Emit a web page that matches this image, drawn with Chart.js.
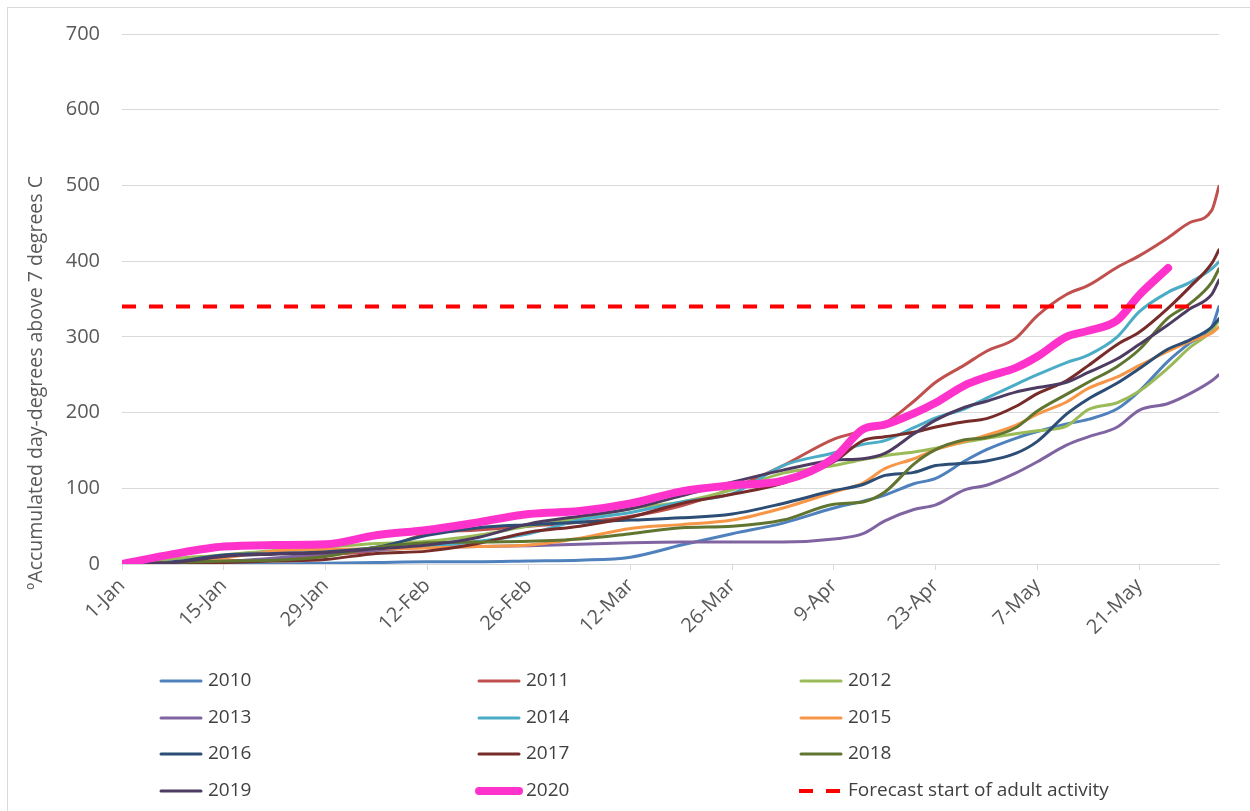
<!DOCTYPE html>
<html>
<head>
<meta charset="utf-8">
<title>Accumulated day-degrees above 7 degrees C</title>
<script src="https://cdn.jsdelivr.net/npm/chart.js@4.4.1/dist/chart.umd.min.js"></script>
<style>
  body { margin: 0; background: #ffffff; }
  #myChart { display: block; }
</style>
</head>
<body>
<canvas id="myChart" width="1250" height="811"></canvas>
<script>
/* DATA */

// day of the year for every reading (0 = 1-Jan)
var days = [0, 7, 14, 21, 28, 35, 42, 49, 56, 63, 70, 77, 84, 91, 98,
            102, 105, 109, 112, 116, 119, 123, 126, 130, 133, 137, 140, 144, 147, 150, 151];

var y2010 = [0, 0, 0, 0, 1, 2, 3, 3, 4, 5, 9, 25, 40, 54, 74,
             83, 91, 106, 113, 136, 151, 166, 175, 185, 191, 205, 228, 268, 292, 313, 340];
var y2011 = [0, 2, 4, 6, 12, 18, 40, 45, 50, 55, 63, 77, 100, 130, 165,
             176, 186, 215, 240, 263, 281, 298, 328, 356, 368, 392, 407, 431, 451, 467, 499];
var y2012 = [0, 7, 12, 18, 22, 27, 30, 38, 50, 60, 73, 82, 98, 120, 130,
             138, 143, 148, 153, 161, 166, 172, 176, 182, 204, 213, 228, 259, 286, 308, 322];
var y2013 = [0, 0, 3, 8, 14, 18, 22, 23, 24, 26, 28, 29, 29, 29, 33,
             40, 57, 72, 78, 98, 104, 120, 135, 157, 168, 181, 203, 212, 225, 242, 250];
var y2014 = [0, 2, 10, 16, 18, 20, 23, 30, 40, 58, 68, 82, 93, 130, 147,
             158, 163, 180, 193, 205, 219, 237, 250, 266, 276, 300, 333, 359, 372, 390, 399];
var y2015 = [0, 1, 8, 17, 19, 20, 21, 23, 25, 34, 47, 52, 58, 74, 95,
             107, 126, 139, 151, 162, 170, 183, 198, 214, 232, 247, 262, 281, 294, 305, 313];
var y2016 = [0, 3, 12, 14, 16, 22, 38, 48, 52, 55, 58, 61, 66, 80, 97,
             105, 117, 121, 130, 133, 136, 146, 162, 198, 218, 239, 258, 284, 296, 313, 324];
var y2017 = [0, 0, 2, 4, 6, 14, 17, 27, 42, 50, 62, 80, 92, 107, 135,
             163, 168, 174, 181, 188, 192, 208, 225, 242, 262, 290, 306, 338, 366, 397, 415];
var y2018 = [0, 2, 4, 5, 10, 22, 28, 29, 30, 33, 40, 48, 50, 58, 79,
             82, 95, 132, 151, 164, 167, 180, 202, 224, 240, 261, 283, 325, 344, 372, 390];
var y2019 = [0, 2, 10, 13, 15, 20, 25, 35, 53, 63, 73, 90, 108, 124, 137,
             139, 146, 172, 190, 207, 215, 227, 233, 240, 253, 271, 290, 316, 337, 356, 375];
var y2020 = [0, 13, 23, 25, 26, 38, 45, 55, 66, 70, 80, 96, 104, 110, 140,
             178, 184, 199, 213, 236, 247, 259, 274, 300, 308, 322, 355, 391, null, null, null];

var forecastDays = [0, 150];
var forecastLevel = 340;

var tickDays = [0, 14, 28, 42, 56, 70, 84, 98, 112, 126, 140];
var tickLabels = ["1-Jan", "15-Jan", "29-Jan", "12-Feb", "26-Feb", "12-Mar", "26-Mar", "9-Apr", "23-Apr", "7-May", "21-May"];

var seriesNames = ["2010", "2011", "2012", "2013", "2014", "2015", "2016", "2017", "2018", "2019", "2020"];
var seriesValues = [y2010, y2011, y2012, y2013, y2014, y2015, y2016, y2017, y2018, y2019, y2020];
var seriesColors = ["#4F81BD", "#C0504D", "#9BBB59", "#8064A2", "#4BACC6", "#F79646",
                    "#2C4D75", "#772C2A", "#5F7530", "#4D3B62", "#FF33CC"];
var forecastName = "Forecast start of adult activity";

var yTitle = "\u00BAAccumulated day-degrees above 7 degrees C";


/* BUILD DATASETS */

function toPoints(xs, values) {
  var points = [];
  for (var i = 0; i < values.length; i++) {
    if (values[i] !== null) {
      points.push({ x: xs[i], y: values[i] });
    }
  }
  return points;
}

var datasets = [];
for (var i = 0; i < seriesNames.length; i++) {
  datasets.push({
    label: seriesNames[i],
    data: toPoints(days, seriesValues[i]),
    borderColor: seriesColors[i],
    backgroundColor: seriesColors[i],
    borderWidth: seriesNames[i] === "2020" ? 8 : 3,
    borderCapStyle: "round",
    borderJoinStyle: "round",
    cubicInterpolationMode: "monotone",
    pointRadius: 0
  });
}
datasets.push({
  label: forecastName,
  data: forecastDays.map(function (d) { return { x: d, y: forecastLevel }; }),
  borderColor: "#FF0000",
  backgroundColor: "#FF0000",
  borderWidth: 4,
  borderDash: [14, 13],
  pointRadius: 0
});
// excel draws the last series on top
for (var j = 0; j < datasets.length; j++) {
  datasets[j].order = datasets.length - j;
}


/* DECORATION: border, y title and legend grid */

var tickFont = { family: "'Open Sans', 'Liberation Sans', sans-serif", size: 20 };

const chartDecor = {
  id: "chartDecor",
  beforeDraw: function (chart) {
    var ctx = chart.ctx;
    ctx.save();
    ctx.fillStyle = "#ffffff";
    ctx.fillRect(0, 0, chart.width, chart.height);
    ctx.strokeStyle = "#d9d9d9";
    ctx.lineWidth = 1;
    ctx.strokeRect(7.5, 7.5, chart.width + 20, chart.height + 20);
    ctx.restore();
  },
  afterDraw: function (chart) {
    var ctx = chart.ctx;
    ctx.save();

    // y axis title
    ctx.translate(36, 383);
    ctx.rotate(-Math.PI / 2);
    ctx.font = "19.5px 'Open Sans', sans-serif";
    ctx.fillStyle = "#595959";
    ctx.textAlign = "center";
    ctx.textBaseline = "middle";
    ctx.fillText(yTitle, 0, 0);
    ctx.restore();

    // legend, 3 columns x 4 rows
    var colX = [159, 477, 799];
    var rowY = [681, 718, 754, 791];
    ctx.save();
    ctx.font = "19px 'Open Sans', sans-serif";
    ctx.textBaseline = "middle";
    ctx.textAlign = "left";
    for (var k = 0; k < chart.data.datasets.length; k++) {
      var ds = chart.data.datasets[k];
      var x = colX[k % 3];
      var y = rowY[Math.floor(k / 3)];
      ctx.beginPath();
      ctx.strokeStyle = ds.borderColor;
      ctx.lineWidth = ds.borderWidth;
      if (ds.borderDash) {
        ctx.lineCap = "butt";
        ctx.setLineDash([14, 13]);
        ctx.moveTo(x, y);
        ctx.lineTo(x + 45, y);
      } else {
        ctx.lineCap = "round";
        ctx.setLineDash([]);
        ctx.moveTo(x + 2, y);
        ctx.lineTo(x + 42, y);
      }
      ctx.stroke();
      ctx.setLineDash([]);
      ctx.fillStyle = "#404040";
      ctx.fillText(ds.label, x + 49, y);
    }
    ctx.restore();
  }
};


/* CHART */

new Chart("myChart", {
  type: "line",
  data: { datasets: datasets },
  options: {
    responsive: false,
    animation: false,
    layout: { padding: { left: 0, right: 31, top: 31, bottom: 147 } },
    plugins: {
      legend: { display: false },
      tooltip: { enabled: false },
      title: { display: false }
    },
    scales: {
      x: {
        type: "linear",
        min: 0,
        max: 151,
        afterBuildTicks: function (scale) {
          scale.ticks = tickDays.map(function (d) { return { value: d }; });
        },
        afterFit: function (scale) { scale.height = 100; },
        ticks: {
          autoSkip: false,
          minRotation: 45,
          maxRotation: 45,
          padding: 4,
          color: "#595959",
          font: tickFont,
          callback: function (value) {
            var idx = tickDays.indexOf(value);
            return idx >= 0 ? tickLabels[idx] : "";
          }
        },
        grid: {
          drawOnChartArea: false,
          drawTicks: true,
          tickLength: 6,
          color: "#d9d9d9"
        },
        border: { display: true, color: "#d9d9d9", width: 1 }
      },
      y: {
        min: 0,
        max: 700,
        afterFit: function (scale) { scale.width = 122; },
        ticks: {
          stepSize: 100,
          padding: 22,
          color: "#595959",
          font: tickFont
        },
        grid: { color: "#d9d9d9", drawTicks: false },
        border: { display: false }
      }
    }
  },
  plugins: [chartDecor]
});
</script>
</body>
</html>
